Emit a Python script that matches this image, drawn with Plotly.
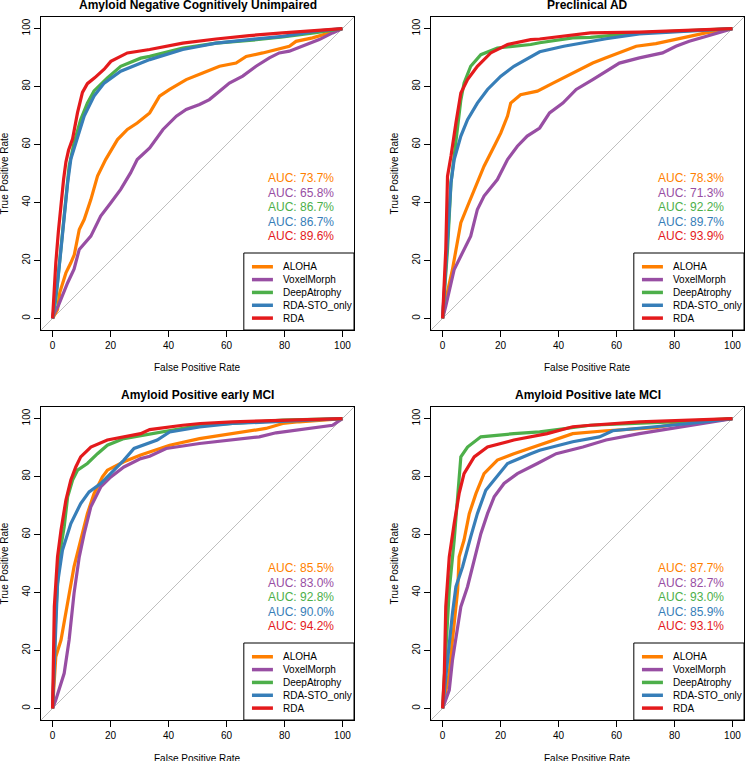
import plotly.graph_objects as go

METHODS = ["ALOHA", "VoxelMorph", "DeepAtrophy", "RDA-STO_only", "RDA"]
COLORS = ["#FF7F00", "#984EA3", "#4DAF4A", "#377EB8", "#E41A1C"]
PANEL_TITLES = ["Amyloid Negative Cognitively Unimpaired", "Preclinical AD",
                "Amyloid Positive early MCI", "Amyloid Positive late MCI"]
TICKS = [0, 20, 40, 60, 80, 100]
X_TITLE = "False Positive Rate"
Y_TITLE = "True Positive Rate"

# AUC values (%) in method order
AUC_CU = [73.7, 65.8, 86.7, 86.7, 89.6]
AUC_PRE = [78.3, 71.3, 92.2, 89.7, 93.9]
AUC_EMCI = [85.5, 83.0, 92.8, 90.0, 94.2]
AUC_LMCI = [87.7, 82.7, 93.0, 85.9, 93.1]

# ROC curves: [FPR %, TPR %] pairs
CU_ALOHA = [[0,0],[1.7,3.1],[2.5,9],[4.6,15.7],[6.3,19.2],[7.5,22],[9.2,30.7],[10.9,34.1],[13.2,41],[15.5,49.1],[18.3,54.8],[22.4,61.7],[25.8,65.2],[29.2,67.4],[33.5,70.9],[36.9,76.7],[40.4,79],[46.1,82.4],[51.8,84.7],[57.6,87],[63.3,88.1],[66.8,90.4],[72.5,91.6],[77.1,92.8],[81.7,93.9],[84,95.6],[89.7,96.8],[95.4,98.5],[100,100]]
CU_VOXEL = [[0,0],[0.6,1.9],[2,4.4],[5.2,12.3],[7.4,17],[9.2,23.8],[13.2,28.4],[16.6,35.3],[20.1,39.9],[23.5,44.5],[26.9,50.2],[29.2,54.8],[33.5,58.8],[38.1,65.2],[42.7,69.8],[46.1,72.1],[50.7,73.8],[54.1,75.5],[57.6,78.4],[61,81.2],[65.6,83.6],[70.2,87],[74.8,89.9],[78.2,91.6],[81.7,92.2],[86.2,93.9],[92,96.2],[96.6,98.5],[100,100]]
CU_DEEP = [[0,0],[1.1,6.5],[1.7,12.3],[2.9,23.8],[4,35.3],[5.2,46.8],[5.7,52.5],[7.4,60.6],[9.7,68.6],[12,74.3],[14.3,78.5],[18.9,83],[23.5,87],[30.4,89.8],[33.5,90.4],[44.9,93.3],[56.4,95],[67.9,95.9],[79.4,97.1],[90.8,98.6],[100,100]]
CU_STO = [[0,0],[1.7,12.3],[2.9,23.8],[4,35.3],[5.2,46.8],[6.3,55],[8,60.6],[10.9,69.8],[14.3,76.7],[17.8,81.2],[23.5,85.3],[30.4,88.1],[33.5,89.3],[44.9,92.8],[56.4,95],[67.9,96.2],[79.4,97.3],[90.8,99.1],[100,100]]
CU_RDA = [[0,0],[0.5,10],[1.1,19],[2,30],[2.9,40],[3.8,48],[4.6,54],[5.5,58],[6.9,62],[8.6,71],[10.3,78],[12,81],[14.5,83],[17.8,86],[20.1,88.7],[25.8,91.6],[33.5,92.8],[44.9,95],[56.4,96.4],[67.9,97.6],[79.4,98.5],[90.8,99.4],[100,100]]

PRE_ALOHA = [[0,0],[1.1,6.5],[3.4,16.9],[6.3,33],[8.6,38.7],[10.9,44.5],[14.3,52.5],[17.8,59.4],[20.1,64],[22.4,69.8],[23.5,74.3],[26.9,77.2],[32.7,78.4],[38.1,81.2],[42.7,83.6],[47.2,85.9],[51.8,88.1],[56.4,89.9],[62.1,92.2],[66.8,93.9],[73.6,94.8],[79.4,96],[85.1,97.3],[90.8,98.5],[100,100]]
PRE_VOXEL = [[0,0],[1.1,4.2],[4,16.9],[6.3,21.5],[9.7,28.4],[12,37.6],[14.3,42.2],[18.9,47.9],[22.4,54.8],[25.8,59.4],[29.2,62.9],[33.5,65.7],[36.9,70.9],[41.5,74.3],[46.1,79],[51.8,82.4],[56.4,85.3],[61,88.1],[67.9,89.9],[75.9,91.6],[80.5,93.9],[85.1,95.6],[90.8,97.3],[96.6,99.1],[100,100]]
PRE_DEEP = [[0,0],[1.7,23.8],[2.9,46.8],[4,56],[5.2,66.3],[6.3,75.4],[7.4,81.2],[9.7,87],[13.2,91],[18.9,93.3],[30.4,94.5],[33.5,95.1],[44.9,96.8],[51,97],[67.9,98.5],[84.7,99.2],[100,100]]
PRE_STO = [[0,0],[1.7,29.5],[2.9,46.8],[4,54.8],[6.3,62.9],[8.6,68.6],[12,74.3],[15.5,79],[20.1,83.6],[24.6,87],[30.4,90.4],[33.5,92],[41.8,93.9],[51,95.6],[56.4,96.5],[67.9,98.2],[90.8,99.4],[100,100]]
PRE_RDA = [[0,0],[1.1,23.8],[1.7,49.1],[2.9,56],[4.6,67.4],[6.3,77.8],[8.6,82.4],[12,87],[16.6,91.6],[22.4,94.5],[30.4,96.2],[33.5,96.4],[51,98.5],[67.9,98.8],[100,100]]

EMCI_ALOHA = [[0,0],[1.1,17.8],[2.9,23.6],[5.2,36.2],[7.4,48.9],[9.7,58.1],[12,67.2],[14.3,74.1],[17.2,79.9],[18.9,82.2],[24.6,85.1],[30.4,87.4],[33.5,88.5],[40.4,90.8],[50.7,93.1],[62.1,94.8],[73.6,96.6],[79.4,98.3],[85.1,98.9],[100,100]]
EMCI_VOXEL = [[0,0],[1.1,2.9],[4,12.1],[5.7,23.6],[7.4,39.7],[9.2,52.3],[10.9,60.3],[13.2,69.6],[16.6,76.4],[20.1,79.9],[24.6,83.3],[30.4,86.2],[33.5,87],[39.2,89.7],[50.7,91.4],[62.1,92.6],[71.3,93.7],[77.1,95.1],[88.5,96.6],[96.6,97.7],[100,100]]
EMCI_DEEP = [[0,0],[1.1,32.8],[2.3,52.3],[4,62.7],[5.2,73],[6.9,78.8],[8.6,82.2],[12,84.5],[15.5,87.9],[18.9,90.8],[24.6,93.1],[36.1,95],[51,97.7],[62.1,98.3],[79.4,99.5],[100,100]]
EMCI_STO = [[0,0],[1.7,43.1],[3.4,54.6],[6.3,63.8],[9.7,70.7],[12.6,74.7],[16.6,77.6],[20.1,81],[24.6,85.7],[28.1,89.7],[36.1,92.6],[40.4,95.4],[50.7,97.1],[62.1,98.3],[79.4,99.2],[100,100]]
EMCI_RDA = [[0,0],[0.6,35.1],[1.7,52.3],[2.9,61.5],[4.6,71.9],[6.3,78.8],[8,83.3],[9.7,86.8],[13.2,90.2],[18.9,92.6],[30.4,94.8],[33.5,96.2],[44.9,97.7],[51,98.3],[62.1,98.9],[100,100]]

LMCI_ALOHA = [[0,0],[2.3,12.1],[3.4,23.6],[5.2,40.8],[5.7,52.3],[7.4,58.1],[9.2,67.2],[11.5,74.1],[14.3,81],[18.9,85.7],[24.6,87.9],[33.5,91],[44.9,94.8],[56.4,95.8],[73.6,96.9],[79.4,98],[100,100]]
LMCI_VOXEL = [[0,0],[2.3,6.3],[3.4,16.6],[4.6,23.6],[6.3,35.1],[8.6,42],[10.9,51.2],[13.2,60.3],[15.5,67.2],[17.8,73],[21.2,77.6],[25.8,81],[32.7,84.5],[39.2,87.9],[48.4,90.2],[56.4,92.6],[67.9,94.8],[79.4,96.6],[90.8,98.3],[100,100]]
LMCI_DEEP = [[0,0],[1.1,17.8],[2.3,40.8],[4,58.1],[5.2,74.1],[6.3,86.8],[8.6,90.2],[13.2,93.7],[24.6,94.8],[33.5,95.4],[51,97.7],[56.4,97.9],[79.4,98.9],[100,100]]
LMCI_STO = [[0,0],[1.7,17.8],[3.4,32.8],[4.6,42],[6.9,48.9],[9.7,59.2],[12,67.2],[14.9,75.3],[17.8,78.8],[22.4,84.5],[30.4,87.9],[33.5,89.1],[44.9,92],[54.1,93.7],[58.7,95.8],[73.6,97.1],[85.1,98.3],[100,100]]
LMCI_RDA = [[0,0],[0.6,12.1],[1.1,35.1],[2.3,52.3],[4,63.8],[5.7,74.1],[7.4,81],[10.9,86.8],[15.5,90.2],[24.6,92.6],[36.1,94.8],[44.9,97.2],[51,97.7],[67.9,98.9],[100,100]]

PANEL_CURVES = [
    [CU_ALOHA, CU_VOXEL, CU_DEEP, CU_STO, CU_RDA],
    [PRE_ALOHA, PRE_VOXEL, PRE_DEEP, PRE_STO, PRE_RDA],
    [EMCI_ALOHA, EMCI_VOXEL, EMCI_DEEP, EMCI_STO, EMCI_RDA],
    [LMCI_ALOHA, LMCI_VOXEL, LMCI_DEEP, LMCI_STO, LMCI_RDA],
]
PANEL_AUCS = [AUC_CU, AUC_PRE, AUC_EMCI, AUC_LMCI]

W, H = 745, 761
FONT = "Liberation Sans, Arial, Helvetica, sans-serif"
X_DOMAINS = [(41, 354), (431, 744), (41, 354), (431, 744)]
Y_DOMAINS = [(17, 330), (17, 330), (407, 720), (407, 720)]
RANGE = [-4, 104]

fig = go.Figure()
shapes, annotations = [], []
layout_axes = {}

for p in range(4):
    n = p + 1
    xs = "" if n == 1 else str(n)
    xref, yref = "x" + xs, "y" + xs
    x0, x1 = X_DOMAINS[p]
    y0, y1 = Y_DOMAINS[p]
    layout_axes["xaxis" + xs] = dict(
        domain=[x0 / W, x1 / W], range=RANGE, anchor=yref, tickvals=TICKS,
        ticks="outside", ticklen=6, tickwidth=1, tickcolor="black",
        showline=True, mirror=True, linecolor="black", linewidth=1,
        showgrid=False, zeroline=False, fixedrange=True,
        tickfont=dict(size=10, color="black", family=FONT))
    layout_axes["yaxis" + xs] = dict(
        domain=[1 - y1 / H, 1 - y0 / H], range=RANGE, anchor=xref, tickvals=TICKS,
        ticks="outside", ticklen=6, tickwidth=1, tickcolor="black", tickangle=-90,
        showline=True, mirror=True, linecolor="black", linewidth=1,
        showgrid=False, zeroline=False, fixedrange=True,
        tickfont=dict(size=10, color="black", family=FONT))

    # chance diagonal
    shapes.append(dict(type="line", xref=xref, yref=yref, x0=RANGE[0], y0=RANGE[0],
                       x1=RANGE[1], y1=RANGE[1], line=dict(color="#BEBEBE", width=1),
                       layer="below"))

    for m, curve in enumerate(PANEL_CURVES[p]):
        fig.add_trace(go.Scatter(
            x=[pt[0] for pt in curve], y=[pt[1] for pt in curve],
            mode="lines", line=dict(color=COLORS[m], width=3.2),
            name=METHODS[m], showlegend=False, xaxis=xref, yaxis=yref))

    # title
    annotations.append(dict(text="<b>" + PANEL_TITLES[p] + "</b>", xref=xref + " domain",
                            yref=yref + " domain", x=0.5, y=1, yshift=12, showarrow=False,
                            xanchor="center", yanchor="middle",
                            font=dict(size=12, color="black", family=FONT)))
    # axis titles
    annotations.append(dict(text=X_TITLE, xref=xref + " domain", yref=yref + " domain",
                            x=0.5, y=0, yshift=-38, showarrow=False, xanchor="center",
                            yanchor="middle", font=dict(size=10, color="black", family=FONT)))
    annotations.append(dict(text=Y_TITLE, xref=xref + " domain", yref=yref + " domain",
                            x=0, y=0.5, xshift=-37, showarrow=False, textangle=-90,
                            xanchor="center", yanchor="middle",
                            font=dict(size=10, color="black", family=FONT)))
    # AUC labels
    for m, auc in enumerate(PANEL_AUCS[p]):
        annotations.append(dict(text="AUC: %.1f%%" % auc, xref=xref, yref=yref,
                                x=97.8, y=48.3 - 5 * m, showarrow=False, xanchor="right",
                                yanchor="middle",
                                font=dict(size=12, color=COLORS[m], family=FONT)))
    # legend box
    shapes.append(dict(type="rect", xref=xref + " domain", yref=yref + " domain",
                       x0=0.648, x1=1, y0=0, y1=0.246, line=dict(color="black", width=1),
                       fillcolor="white", layer="below"))
    for m, name in enumerate(METHODS):
        yy = 0.202 - 0.041 * m
        shapes.append(dict(type="line", xref=xref + " domain", yref=yref + " domain",
                           x0=0.674, x1=0.741, y0=yy, y1=yy,
                           line=dict(color=COLORS[m], width=3.5)))
        annotations.append(dict(text=name, xref=xref + " domain", yref=yref + " domain",
                                x=0.767, y=yy, showarrow=False, xanchor="left",
                                yanchor="middle",
                                font=dict(size=10, color="black", family=FONT)))

fig.update_layout(
    width=W, height=H, margin=dict(l=0, r=0, t=0, b=0),
    paper_bgcolor="white", plot_bgcolor="white", showlegend=False,
    shapes=shapes, annotations=annotations, **layout_axes)

fig.write_html("out.html", config={"displayModeBar": False},
               post_script="document.body.style.margin='0';document.body.style.overflow='hidden';")
